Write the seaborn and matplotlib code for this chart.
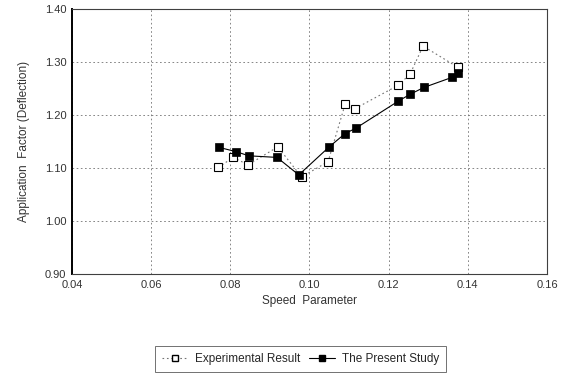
import matplotlib
matplotlib.use("Agg")
import matplotlib.pyplot as plt
import seaborn as sns
import pandas as pd
from matplotlib.lines import Line2D

# Experimental measurements
exp_speed = [0.077, 0.0807, 0.0845, 0.092, 0.098, 0.1047, 0.109, 0.1115, 0.1224, 0.1254, 0.1287, 0.1375]
exp_factor = [1.101, 1.120, 1.106, 1.140, 1.083, 1.112, 1.220, 1.212, 1.256, 1.277, 1.330, 1.290]

# Computed results of the present study
study_speed = [0.0771, 0.0814, 0.0847, 0.0918, 0.0973, 0.105, 0.109, 0.1117, 0.1224, 0.1254, 0.1289, 0.136, 0.1375]
study_factor = [1.139, 1.131, 1.123, 1.120, 1.087, 1.140, 1.165, 1.175, 1.226, 1.239, 1.252, 1.271, 1.279]

x_ticks = [0.04, 0.06, 0.08, 0.10, 0.12, 0.14, 0.16]
y_ticks = [0.90, 1.00, 1.10, 1.20, 1.30, 1.40]

sns.set_theme(style="white")
plt.rcParams["font.family"] = ["Liberation Sans", "DejaVu Sans"]

exp_df = pd.DataFrame({"speed": exp_speed, "factor": exp_factor})
study_df = pd.DataFrame({"speed": study_speed, "factor": study_factor})

fig = plt.figure(figsize=(5.74, 3.82), dpi=100)
ax = fig.add_axes([0.1254, 0.2827, 0.8275, 0.6937])

sns.lineplot(data=exp_df, x="speed", y="factor", ax=ax, color="0.45",
             linestyle=(0, (1.5, 2.5)), linewidth=0.8, estimator=None,
             marker="s", markersize=5.5, markerfacecolor="white",
             markeredgecolor="black", markeredgewidth=0.8)
sns.lineplot(data=study_df, x="speed", y="factor", ax=ax, color="black",
             linewidth=0.8, estimator=None,
             marker="s", markersize=5.5, markerfacecolor="black",
             markeredgecolor="black", markeredgewidth=0.5)

ax.set_xlim(0.04, 0.16)
ax.set_ylim(0.90, 1.40)
ax.set_xticks(x_ticks)
ax.set_yticks(y_ticks)
ax.set_xticklabels([f"{v:.2f}" for v in x_ticks], fontsize=8, color="0.2")
ax.set_yticklabels([f"{v:.2f}" for v in y_ticks], fontsize=8, color="0.2")
ax.tick_params(axis="both", direction="out", length=3, width=0.6, color="black", pad=1)
ax.set_xlabel("Speed  Parameter", fontsize=8.5, color="0.2", labelpad=4)
ax.set_ylabel("Application  Factor (Deflection)", fontsize=8.5, color="0.2", labelpad=11)

ax.grid(True, color="0.45", linestyle=(0, (2, 3)), linewidth=0.6)
for side, sp in ax.spines.items():
    sp.set_visible(True)
    sp.set_color("0.25")
    sp.set_linewidth(0.8)
ax.spines["left"].set_color("black")
ax.spines["left"].set_linewidth(1.4)

handles = [
    Line2D([], [], color="0.45", linestyle=(0, (1.5, 2.5)), linewidth=0.8,
           marker="s", markersize=5, markerfacecolor="white", markeredgecolor="black"),
    Line2D([], [], color="black", linewidth=0.8, marker="s", markersize=5,
           markerfacecolor="black", markeredgecolor="black"),
]
leg = fig.legend(handles, ["Experimental Result", "The Present Study"], ncol=2,
                 loc="center", bbox_to_anchor=(0.524, 0.06), fontsize=8.5,
                 frameon=True, fancybox=False, handlelength=2.2, handletextpad=0.6,
                 columnspacing=0.7, borderpad=0.6)
leg.get_frame().set_edgecolor("0.3")
leg.get_frame().set_linewidth(0.7)

fig.savefig("out.png", dpi=100)
